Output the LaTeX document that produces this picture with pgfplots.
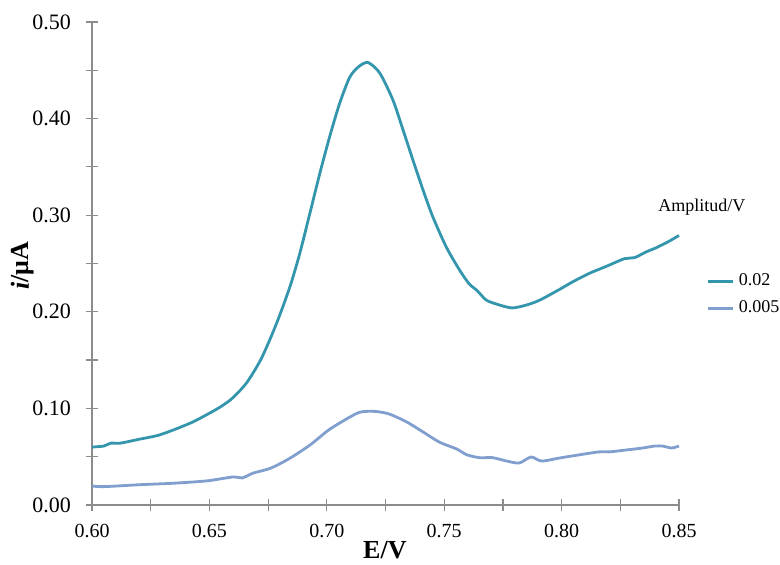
\documentclass[border=0pt]{standalone}
\usepackage{pgfplots}
\pgfplotsset{compat=1.18}
\usepackage{fontspec}
\setmainfont{Liberation Serif}
\definecolor{ampA}{RGB}{52,150,172}
\definecolor{ampB}{RGB}{128,158,206}
\definecolor{axgray}{RGB}{140,140,140}

\begin{document}
\begin{tikzpicture}
\path[use as bounding box] (-46pt,-30pt) rectangle (344pt,252.5pt);
\begin{axis}[
  scale only axis,
  width=293.5pt, height=241.5pt,
  xmin=0.60, xmax=0.85, ymin=0, ymax=0.50,
  axis lines=left,
  axis line style={axgray, line width=0.6pt, -},
  every tick/.style={axgray, line width=0.6pt},
  tick align=center,
  major tick length=6pt, minor tick length=6pt,
  xtick={0.60,0.65,...,0.851},
  minor xtick={0.625,0.675,...,0.83},
  ytick={0,0.1,...,0.51},
  minor ytick={0.05,0.15,...,0.46},
  /pgf/number format/assume math mode=true,
  /pgf/number format/.cd, fixed, fixed zerofill, precision=2, /pgfplots/.cd,
  xticklabel style={font=\fontsize{10}{12}\selectfont, yshift=-3pt},
  yticklabel style={font=\fontsize{11}{13}\selectfont, xshift=-4pt},
  xlabel={\textbf{E/V}},
  ylabel={\textbf{\textit{i}/μA}},
  every axis x label/.style={at={(rel axis cs:0.499,-0.093)}, anchor=center,
    font=\fontsize{13}{15}\selectfont},
  every axis y label/.style={at={(rel axis cs:-0.118,0.495)}, anchor=center,
    rotate=90, font=\fontsize{13}{15}\selectfont},
  clip=false,
  legend style={draw=none, fill=none, font=\fontsize{9}{13}\selectfont,
    at={(rel axis cs:1.047,0.488)}, anchor=north west,
    row sep=2pt, inner sep=0pt, cells={anchor=west}},
  legend image code/.code={\draw[#1] (0pt,0pt) -- (12.5pt,0pt);},
]
% amplitude 0.02 V
\addplot[ampA, line width=1.4pt, smooth, tension=0.45] coordinates {
(0.600,0.060)(0.605,0.061)(0.608,0.064)(0.612,0.064)(0.620,0.068)
(0.628,0.072)(0.635,0.078)(0.643,0.086)(0.650,0.095)(0.655,0.102)
(0.660,0.111)(0.666,0.127)(0.6722,0.152)(0.6786,0.188)(0.6843,0.226)
(0.6885,0.2605)(0.6928,0.302)(0.697,0.343)(0.7013,0.382)(0.7055,0.416)
(0.7098,0.443)(0.7137,0.454)(0.7176,0.458)(0.7226,0.447)(0.7282,0.419)
(0.7325,0.388)(0.7367,0.357)(0.741,0.326)(0.7452,0.298)(0.7509,0.267)
(0.7566,0.243)(0.7606,0.229)(0.764,0.222)(0.768,0.212)(0.7736,0.207)
(0.779,0.204)(0.785,0.207)(0.7906,0.212)(0.799,0.223)(0.8047,0.231)
(0.812,0.240)(0.819,0.247)(0.8268,0.255)(0.831,0.256)(0.836,0.262)
(0.840,0.266)(0.845,0.272)(0.850,0.279)
};
\addlegendentry{0.02}
% amplitude 0.005 V
\addplot[ampB, line width=1.4pt, smooth, tension=0.45] coordinates {
(0.600,0.0197)(0.605,0.019)(0.6204,0.021)(0.6345,0.0225)(0.649,0.025)
(0.660,0.029)(0.664,0.028)(0.6686,0.033)(0.676,0.038)(0.684,0.048)
(0.6928,0.062)(0.701,0.078)(0.7098,0.091)(0.714,0.096)(0.718,0.097)
(0.722,0.0965)(0.7268,0.094)(0.734,0.086)(0.741,0.0756)(0.748,0.065)
(0.7553,0.058)(0.7596,0.052)(0.765,0.049)(0.7706,0.049)(0.7766,0.0455)
(0.782,0.0435)(0.787,0.0497)(0.7915,0.0455)(0.799,0.0486)(0.8077,0.052)
(0.816,0.055)(0.8204,0.055)(0.8277,0.057)(0.8345,0.059)(0.8396,0.061)
(0.843,0.061)(0.8468,0.059)(0.850,0.061)
};
\addlegendentry{0.005}
\node[font=\fontsize{9}{11}\selectfont] at (rel axis cs:1.039,0.617) {Amplitud/V};
\end{axis}
\end{tikzpicture}
\end{document}
